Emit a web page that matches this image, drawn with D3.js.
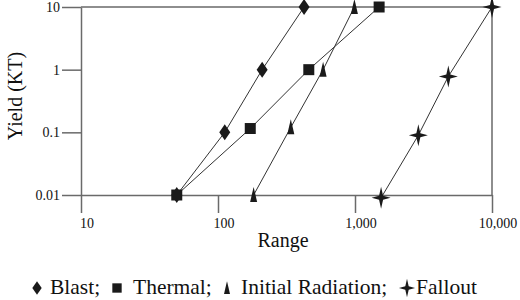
<!DOCTYPE html>
<html>
<head>
<meta charset="utf-8">
<script src="https://cdn.jsdelivr.net/npm/d3@7"></script>
<style>
  body { margin: 0; background: #fff; }
  svg { display: block; }
  text { font-family: "Liberation Serif", "Times New Roman", serif; fill: #111; }
</style>
</head>
<body>
<div id="chart"></div>
<script>
// data (range, yield in KT)
const yieldTicks = [0.01, 0.1, 1, 10]
const rangeTicks = [10, 100, 1000, 10000]

const blastRange = [50, 112, 210, 425]
const blastYield = [0.01, 0.1, 1, 10]
const thermalRange = [50, 172, 460, 1500]
const thermalYield = [0.01, 0.115, 1, 10]
const radiationRange = [182, 340, 585, 990]
const radiationYield = [0.01, 0.12, 1, 10]
const falloutRange = [1550, 2900, 4800, 10000]
const falloutYield = [0.009, 0.09, 0.78, 10]

const legendNames = ["Blast;", "Thermal;", "Initial Radiation;", "Fallout"]

const width = 520, height = 300
const margin = { left: 81, right: 28, top: 7, bottom: 105 }

const svg = d3.select("#chart").append("svg")
    .attr("width", width)
    .attr("height", height)

const x = d3.scaleLog()
    .domain([10, 10000])
    .range([margin.left, width - margin.right])
const y = d3.scaleLog()
    .domain([0.01, 10])
    .range([height - margin.bottom, margin.top])

const axisColor = "#6a6a6a"

// frame (top + right)
svg.append("path")
    .attr("d", `M${x(10)},${y(10)}H${x(10000)}V${y(0.01)}`)
    .attr("fill", "none")
    .attr("stroke", axisColor)
    .attr("stroke-width", 1.5)

const yAxis = svg.append("g")
    .attr("transform", `translate(${x(10)},0)`)
    .call(d3.axisLeft(y).tickValues(yieldTicks).tickSize(19).tickSizeOuter(0).tickFormat(""))
const xAxis = svg.append("g")
    .attr("transform", `translate(0,${y(0.01)})`)
    .call(d3.axisBottom(x).tickValues(rangeTicks).tickSize(18).tickSizeOuter(0).tickFormat(""))

for (const ax of [yAxis, xAxis]) {
    ax.selectAll("path, line").attr("stroke", axisColor).attr("stroke-width", 1.5)
}

// tick labels
svg.append("g").selectAll("text")
    .data(yieldTicks)
    .join("text")
    .attr("x", x(10) - 21)
    .attr("y", d => y(d))
    .attr("dy", "0.35em")
    .attr("text-anchor", "end")
    .style("font-size", "14px")
    .text(d => d)

svg.append("g").selectAll("text")
    .data(rangeTicks)
    .join("text")
    .attr("x", d => x(d) + 6)
    .attr("y", y(0.01) + 33)
    .attr("text-anchor", "middle")
    .style("font-size", "14px")
    .text(d3.format(","))

// axis titles
svg.append("text")
    .attr("x", 283).attr("y", 247)
    .attr("text-anchor", "middle")
    .style("font-size", "20px")
    .text("Range")

svg.append("text")
    .attr("transform", "translate(22,96) rotate(-90)")
    .attr("text-anchor", "middle")
    .style("font-size", "20px")
    .text("Yield (KT)")

// marker shapes
const diamond = "M0,-8L5.5,0L0,8L-5.5,0Z"
const square = "M-5.5,-5.5H5.5V5.5H-5.5Z"
const spike = "M0,-8L1.2,-3L3.5,7L-3.5,7L-1.2,-3Z"
const star = "M0,-11L2,-2L9.5,0L2,2L0,11L-2,2L-9.5,0L-2,-2Z"

const series = [
    { ranges: blastRange, yields: blastYield, shape: diamond },
    { ranges: thermalRange, yields: thermalYield, shape: square },
    { ranges: radiationRange, yields: radiationYield, shape: spike },
    { ranges: falloutRange, yields: falloutYield, shape: star }
]

const line = d3.line()
    .x(d => x(d[0]))
    .y(d => y(d[1]))

series.forEach(s => {
    const pts = s.ranges.map((r, i) => [r, s.yields[i]])
    svg.append("path")
        .attr("d", line(pts))
        .attr("fill", "none")
        .attr("stroke", "#333")
        .attr("stroke-width", 1)
    svg.append("g").selectAll("path")
        .data(pts)
        .join("path")
        .attr("transform", d => `translate(${x(d[0])},${y(d[1])})`)
        .attr("d", s.shape)
        .attr("fill", "#1a1a1a")
})

// legend
const legendX = [37, 117, 227, 407]
const legendTextX = [50, 133, 241, 416]
const legend = svg.append("g")
legendNames.forEach((name, i) => {
    legend.append("path")
        .attr("transform", `translate(${legendX[i]},288) scale(0.85)`)
        .attr("d", series[i].shape)
        .attr("fill", "#1a1a1a")
    legend.append("text")
        .attr("x", legendTextX[i]).attr("y", 294)
        .style("font-size", "21.5px")
        .text(name)
})
</script>
</body>
</html>
